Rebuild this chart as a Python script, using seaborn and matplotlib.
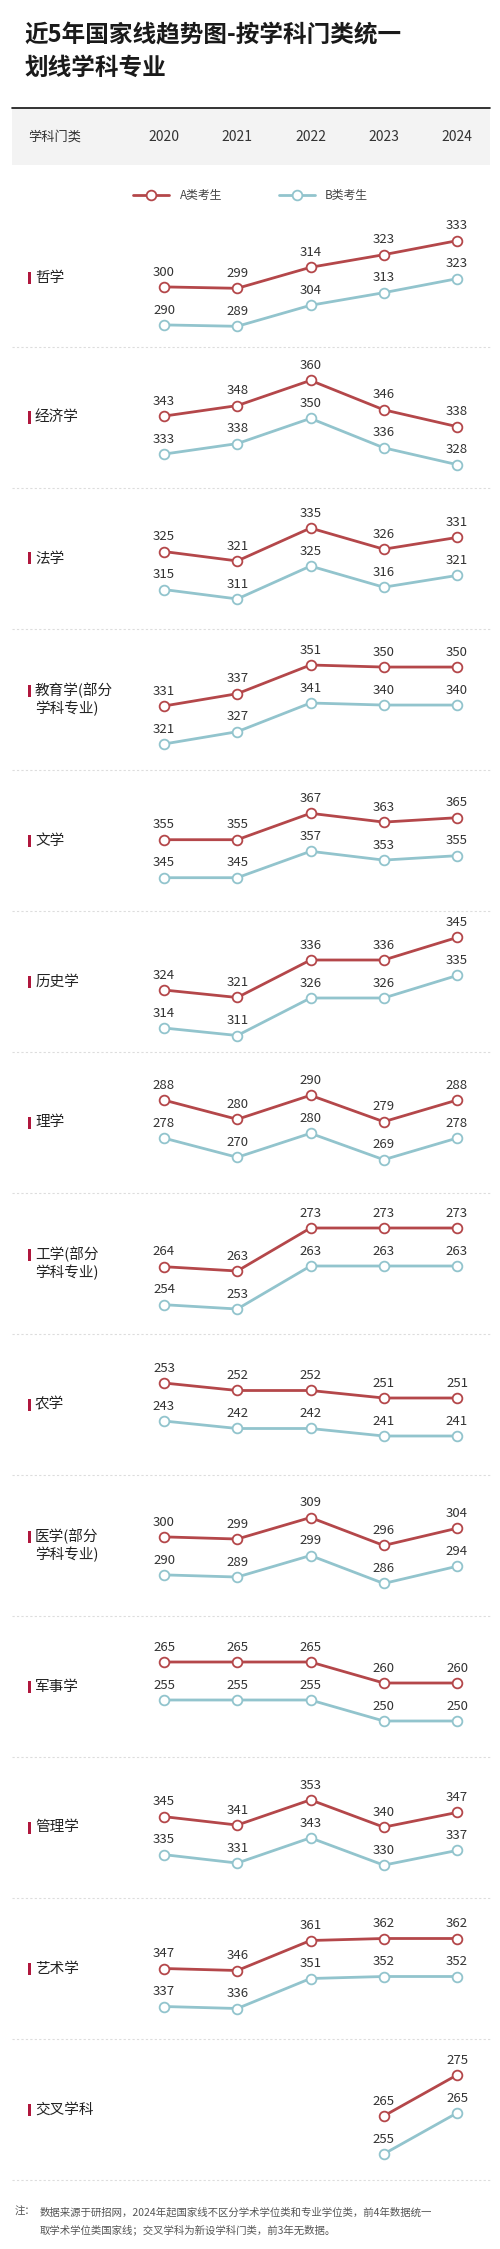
import numpy as np
import matplotlib
matplotlib.use("Agg")
import matplotlib.pyplot as plt
from matplotlib.lines import Line2D
from matplotlib.patches import Rectangle
import seaborn as sns

sns.set_style("white")
plt.rcParams['font.family'] = ['Noto Sans CJK SC', 'DejaVu Sans']

years = ["2020", "2021", "2022", "2023", "2024"]
subjects = ["哲学", "经济学", "法学", "教育学(部分\n学科专业)", "文学", "历史学", "理学",
            "工学(部分\n学科专业)", "农学", "医学(部分\n学科专业)", "军事学", "管理学", "艺术学", "交叉学科"]
nan = np.nan
a_scores = [
    [300, 299, 314, 323, 333],
    [343, 348, 360, 346, 338],
    [325, 321, 335, 326, 331],
    [331, 337, 351, 350, 350],
    [355, 355, 367, 363, 365],
    [324, 321, 336, 336, 345],
    [288, 280, 290, 279, 288],
    [264, 263, 273, 273, 273],
    [253, 252, 252, 251, 251],
    [300, 299, 309, 296, 304],
    [265, 265, 265, 260, 260],
    [345, 341, 353, 340, 347],
    [347, 346, 361, 362, 362],
    [nan, nan, nan, 265, 275],
]
b_scores = [
    [290, 289, 304, 313, 323],
    [333, 338, 350, 336, 328],
    [315, 311, 325, 316, 321],
    [321, 327, 341, 340, 340],
    [345, 345, 357, 353, 355],
    [314, 311, 326, 326, 335],
    [278, 270, 280, 269, 278],
    [254, 253, 263, 263, 263],
    [243, 242, 242, 241, 241],
    [290, 289, 299, 286, 294],
    [255, 255, 255, 250, 250],
    [335, 331, 343, 330, 337],
    [337, 336, 351, 352, 352],
    [nan, nan, nan, 255, 265],
]
legend_labels = ["A类考生", "B类考生"]
title = "近5年国家线趋势图-按学科门类统一\n划线学科专业"
header_label = "学科门类"
note_lines = ["注：", "数据来源于研招网，2024年起国家线不区分学术学位类和专业学位类，前4年数据统一",
              "取学术学位类国家线；交叉学科为新设学科门类，前3年无数据。"]

# style: pixels per score unit for each panel
ppu = [1.4, 2.1, 2.35, 2.05, 2.2, 2.5, 2.4, 4.3, 7.5, 2.15, 4.2, 2.1, 2.0, 4.1]

W, H = 500, 2249
fig = plt.figure(figsize=(W / 100, H / 100), dpi=100)
RED = "#b4474a"
BLUE = "#92c4cd"
TXT = "#333333"

def fx(x): return x / W
def fy(y): return 1 - y / H

x0, dx = 164, 73.25
xlim = (-x0 / dx, (W - x0) / dx)
GAP = 38

# title
fig.text(fx(24), fy(52), title, fontsize=17, fontweight="bold", color="#1a1a1a",
         va="center", ha="left", linespacing=1.45)
# header
fig.add_artist(Rectangle((fx(12), fy(165)), fx(478), (165 - 108) / H, transform=fig.transFigure,
                         facecolor="#f3f3f3", edgecolor="none"))
fig.add_artist(Line2D([fx(12), fx(490)], [fy(108), fy(108)], transform=fig.transFigure, color="#111", lw=1.2))
fig.text(fx(28), fy(137), header_label, fontsize=9.5, color=TXT, va="center")
for i, yr in enumerate(years):
    fig.text(fx(x0 + i * dx), fy(137), yr, fontsize=10, color=TXT, va="center", ha="center")

# legend
for (xs, xe, tx), lab, col in zip([(133, 169, 180), (279, 315, 325)], legend_labels, [RED, BLUE]):
    fig.add_artist(Line2D([fx(xs), fx(xe)], [fy(195), fy(195)], transform=fig.transFigure, color=col, lw=2))
    fig.add_artist(Line2D([fx((xs + xe) / 2)], [fy(195)], transform=fig.transFigure, marker="o",
                          markersize=7, markerfacecolor="white", markeredgecolor=col, markeredgewidth=1.3))
    fig.text(fx(tx), fy(195), lab, fontsize=8.5, color="#444", va="center")

tops = [210] + [347 + 141 * k for k in range(13)]
bots = [347] + [347 + 141 * (k + 1) for k in range(13)]

xs_idx = np.arange(len(years))
for k, name in enumerate(subjects):
    top, bot = tops[k], bots[k]
    h = bot - top
    ax = fig.add_axes([0, fy(bot), 1, h / H])
    axb = ax.twinx()
    a = np.array(a_scores[k], dtype=float)
    b = np.array(b_scores[k], dtype=float)
    p = ppu[k]
    d = 10 - GAP / p
    mid = (np.nanmax(a) + np.nanmin(b) + d) / 2
    cen = mid + 5 / p
    ax.set_ylim(cen - h / 2 / p, cen + h / 2 / p)
    axb.set_ylim(cen - h / 2 / p - d, cen + h / 2 / p - d)
    for axx, vals, col in [(ax, a, RED), (axb, b, BLUE)]:
        m = ~np.isnan(vals)
        sns.lineplot(x=xs_idx[m], y=vals[m], ax=axx, color=col, lw=2, marker="o", markersize=7,
                     markerfacecolor="white", markeredgecolor=col, markeredgewidth=1.3, zorder=3)
        for xi, v in zip(xs_idx[m], vals[m]):
            axx.annotate(f"{int(v)}", (xi, v), xytext=(0, 6), textcoords="offset points",
                         ha="center", va="bottom", fontsize=9.5, color=TXT)
    for axx in (ax, axb):
        axx.set_xlim(*xlim)
        axx.axis("off")
        axx.patch.set_alpha(0)
    # label
    pc = (tops[k] + bots[k]) / 2 if k else 278
    fig.text(fx(35), fy(pc), name, fontsize=10.5, color="#222", va="center", ha="left", linespacing=1.25)
    nlines = name.count("\n") + 1
    ly = pc - (9 if nlines == 2 else 0)
    fig.add_artist(Rectangle((fx(28), fy(ly + 6)), fx(2.5), 12 / H, transform=fig.transFigure,
                             facecolor="#b0173d", edgecolor="none"))
    # separator
    fig.add_artist(Line2D([fx(12), fx(490)], [fy(bot), fy(bot)], transform=fig.transFigure,
                          color="#dddddd", lw=0.8, ls=(0, (2, 2))))

fig.text(fx(15), fy(2212), note_lines[0], fontsize=7.5, color="#555", va="center")
fig.text(fx(40), fy(2212), note_lines[1], fontsize=7.5, color="#555", va="center")
fig.text(fx(40), fy(2230), note_lines[2], fontsize=7.5, color="#555", va="center")

fig.savefig("out.png", dpi=100, facecolor="white")
